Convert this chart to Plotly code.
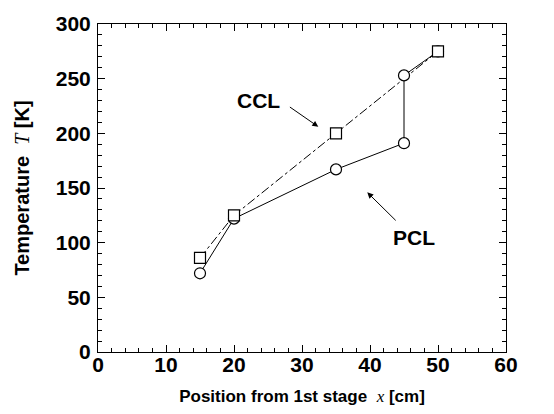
import plotly.graph_objects as go

pcl_x = [15, 20, 35, 45, 45, 50]
pcl_t = [72, 122, 167, 191, 253, 275]
ccl_x = [15, 20, 35, 50]
ccl_t = [86, 125, 200, 275]

x_range = [0, 60]
y_range = [0, 300]
x_major, x_minor = 10, 2
y_major, y_minor = 50, 10

FONT = "Liberation Sans"

fig = go.Figure()
fig.add_trace(go.Scatter(
    x=ccl_x, y=ccl_t, mode="lines",
    line=dict(color="black", width=1, dash="dashdot"),
))
fig.add_trace(go.Scatter(
    x=pcl_x, y=pcl_t, mode="lines+markers",
    line=dict(color="black", width=1),
    marker=dict(symbol="circle", size=11, color="white", line=dict(width=1.2, color="black")),
))
fig.add_trace(go.Scatter(
    x=ccl_x, y=ccl_t, mode="markers",
    marker=dict(symbol="square", size=11, color="white", line=dict(width=1.2, color="black")),
))
# invisible traces that carry the extra tick-only axes
for k in (2, 3, 4):
    fig.add_trace(go.Scatter(x=pcl_x, y=pcl_t, mode="markers", xaxis=f"x{k}", yaxis=f"y{k}",
                             marker=dict(opacity=0), hoverinfo="skip"))

tick_only = dict(showticklabels=False, showgrid=False, zeroline=False, showline=False,
                 ticks="inside", tickcolor="black", tickwidth=1, mirror="ticks", tick0=0)

fig.update_layout(
    xaxis=dict(range=x_range, dtick=x_major, tick0=0, ticks="inside", ticklen=7, tickwidth=1,
               tickcolor="black", showline=True, linecolor="black", linewidth=1, mirror="ticks",
               showgrid=False, zeroline=False, ticklabelstandoff=-6,
               tickfont=dict(family=FONT, size=21, color="black", weight="bold"),
               title=dict(text="Position from 1st stage  <i><span style='font-family:Liberation Serif;font-weight:normal'>x</span></i> [cm]",
                          font=dict(family=FONT, size=17, color="black", weight="bold"), standoff=14)),
    yaxis=dict(range=y_range, dtick=y_major, tick0=0, ticks="inside", ticklen=7, tickwidth=1,
               tickcolor="black", showline=True, linecolor="black", linewidth=1, mirror="ticks",
               showgrid=False, zeroline=False, ticklabelstandoff=2,
               tickfont=dict(family=FONT, size=21, color="black", weight="bold"),
               title=dict(text="Temperature  <i><span style='font-family:Liberation Serif;font-weight:normal'>T</span></i> [K]",
                          font=dict(family=FONT, size=20, color="black", weight="bold"), standoff=20)),
    xaxis2=dict(range=x_range, dtick=x_major, ticklen=7, overlaying="x", side="top", anchor="y2", **tick_only),
    yaxis2=dict(range=y_range, dtick=y_major, ticklen=7, overlaying="y", side="right", anchor="x2", **tick_only),
    xaxis3=dict(range=x_range, dtick=x_minor, ticklen=4, overlaying="x", side="bottom", anchor="y3", **tick_only),
    yaxis3=dict(range=y_range, dtick=y_minor, ticklen=4, overlaying="y", side="left", anchor="x3", **tick_only),
    xaxis4=dict(range=x_range, dtick=x_minor, ticklen=4, overlaying="x", side="top", anchor="y4", **tick_only),
    yaxis4=dict(range=y_range, dtick=y_minor, ticklen=4, overlaying="y", side="right", anchor="x4", **tick_only),
)

fig.add_annotation(x=32.4, y=206, ax=28.0, ay=225, xref="x", yref="y", axref="x", ayref="y",
                   showarrow=True, arrowhead=2, arrowsize=1.2, arrowwidth=1, arrowcolor="black", text="")
fig.add_annotation(x=23.6, y=230, text="CCL", showarrow=False,
                   font=dict(family=FONT, size=21, color="black", weight="bold"))
fig.add_annotation(x=39.6, y=146, ax=44.0, ay=119, xref="x", yref="y", axref="x", ayref="y",
                   showarrow=True, arrowhead=2, arrowsize=1.2, arrowwidth=1, arrowcolor="black", text="")
fig.add_annotation(x=46.5, y=105, text="PCL", showarrow=False,
                   font=dict(family=FONT, size=21, color="black", weight="bold"))

fig.update_layout(
    width=554, height=414,
    margin=dict(l=98, r=48, t=24, b=62),
    paper_bgcolor="white", plot_bgcolor="white",
    showlegend=False,
)

fig.write_html("out.html")
